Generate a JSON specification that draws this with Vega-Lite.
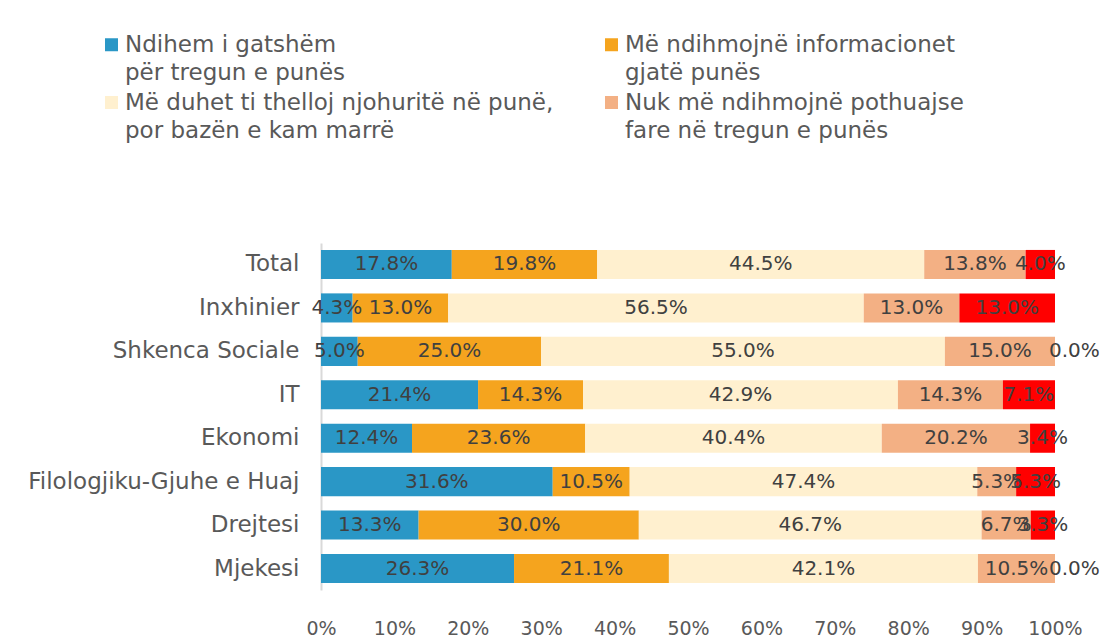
{
  "$schema": "https://vega.github.io/schema/vega-lite/v6.json",
  "autosize": "none",
  "width": 734,
  "height": 347,
  "padding": {"left": 321, "top": 243, "right": 48, "bottom": 54},
  "background": "white",
  "config": {
    "view": {"stroke": null},
    "font": "DejaVu Sans",
    "style": {"guide-label": {"lineHeight": 28}}
  },
  "data": {
    "values": [
      {"cat": "Total", "s": "A", "o": 1, "v": 17.8},
      {"cat": "Total", "s": "B", "o": 2, "v": 19.8},
      {"cat": "Total", "s": "C", "o": 3, "v": 44.5},
      {"cat": "Total", "s": "D", "o": 4, "v": 13.8},
      {"cat": "Total", "s": "E", "o": 5, "v": 4.0},
      {"cat": "Inxhinier", "s": "A", "o": 1, "v": 4.3},
      {"cat": "Inxhinier", "s": "B", "o": 2, "v": 13.0},
      {"cat": "Inxhinier", "s": "C", "o": 3, "v": 56.5},
      {"cat": "Inxhinier", "s": "D", "o": 4, "v": 13.0},
      {"cat": "Inxhinier", "s": "E", "o": 5, "v": 13.0},
      {"cat": "Shkenca Sociale", "s": "A", "o": 1, "v": 5.0},
      {"cat": "Shkenca Sociale", "s": "B", "o": 2, "v": 25.0},
      {"cat": "Shkenca Sociale", "s": "C", "o": 3, "v": 55.0},
      {"cat": "Shkenca Sociale", "s": "D", "o": 4, "v": 15.0},
      {"cat": "Shkenca Sociale", "s": "E", "o": 5, "v": 0.0},
      {"cat": "IT", "s": "A", "o": 1, "v": 21.4},
      {"cat": "IT", "s": "B", "o": 2, "v": 14.3},
      {"cat": "IT", "s": "C", "o": 3, "v": 42.9},
      {"cat": "IT", "s": "D", "o": 4, "v": 14.3},
      {"cat": "IT", "s": "E", "o": 5, "v": 7.1},
      {"cat": "Ekonomi", "s": "A", "o": 1, "v": 12.4},
      {"cat": "Ekonomi", "s": "B", "o": 2, "v": 23.6},
      {"cat": "Ekonomi", "s": "C", "o": 3, "v": 40.4},
      {"cat": "Ekonomi", "s": "D", "o": 4, "v": 20.2},
      {"cat": "Ekonomi", "s": "E", "o": 5, "v": 3.4},
      {"cat": "Filologjiku-Gjuhe e Huaj", "s": "A", "o": 1, "v": 31.6},
      {"cat": "Filologjiku-Gjuhe e Huaj", "s": "B", "o": 2, "v": 10.5},
      {"cat": "Filologjiku-Gjuhe e Huaj", "s": "C", "o": 3, "v": 47.4},
      {"cat": "Filologjiku-Gjuhe e Huaj", "s": "D", "o": 4, "v": 5.3},
      {"cat": "Filologjiku-Gjuhe e Huaj", "s": "E", "o": 5, "v": 5.3},
      {"cat": "Drejtesi", "s": "A", "o": 1, "v": 13.3},
      {"cat": "Drejtesi", "s": "B", "o": 2, "v": 30.0},
      {"cat": "Drejtesi", "s": "C", "o": 3, "v": 46.7},
      {"cat": "Drejtesi", "s": "D", "o": 4, "v": 6.7},
      {"cat": "Drejtesi", "s": "E", "o": 5, "v": 3.3},
      {"cat": "Mjekesi", "s": "A", "o": 1, "v": 26.3},
      {"cat": "Mjekesi", "s": "B", "o": 2, "v": 21.1},
      {"cat": "Mjekesi", "s": "C", "o": 3, "v": 42.1},
      {"cat": "Mjekesi", "s": "D", "o": 4, "v": 10.5},
      {"cat": "Mjekesi", "s": "E", "o": 5, "v": 0.0}
    ]
  },
  "transform": [
    {"stack": "v", "groupby": ["cat"], "sort": [{"field": "o", "order": "ascending"}], "offset": "normalize", "as": ["x0", "x1"]},
    {"calculate": "(datum.x0 + datum.x1) / 2", "as": "xm"},
    {"calculate": "format(datum.v, '.1f') + '%'", "as": "lbl"}
  ],
  "encoding": {
    "y": {
      "field": "cat",
      "type": "nominal",
      "sort": ["Total", "Inxhinier", "Shkenca Sociale", "IT", "Ekonomi", "Filologjiku-Gjuhe e Huaj", "Drejtesi", "Mjekesi"],
      "scale": {"paddingInner": 0.33, "paddingOuter": 0.16},
      "axis": {
        "title": null,
        "ticks": false,
        "domain": true,
        "domainColor": "#d9d9d9",
        "domainWidth": 2,
        "labelFontSize": 23,
        "labelColor": "#595959",
        "labelPadding": 22,
        "labelLimit": 400
      }
    }
  },
  "layer": [
    {
      "mark": {"type": "bar"},
      "encoding": {
        "x": {
          "field": "x0",
          "type": "quantitative",
          "scale": {"domain": [0, 1], "nice": false},
          "axis": {
            "title": null,
            "values": [0, 0.1, 0.2, 0.3, 0.4, 0.5, 0.6, 0.7, 0.8, 0.9, 1],
            "format": ".0%",
            "grid": false,
            "domain": false,
            "ticks": false,
            "labelFontSize": 19,
            "labelColor": "#595959",
            "labelPadding": 29,
            "labelFlush": false
          }
        },
        "x2": {"field": "x1"},
        "color": {
          "field": "s",
          "type": "nominal",
          "scale": {
            "domain": ["A", "B", "C", "D", "E"],
            "range": ["#2A97C6", "#F5A41E", "#FFF0CF", "#F3B084", "#FF0000"]
          },
          "legend": {
            "title": null,
            "values": ["A", "B", "C", "D"],
            "orient": "none",
            "legendX": -221,
            "legendY": -210,
            "columns": 2,
            "direction": "horizontal",
            "columnPadding": 46,
            "rowPadding": 6,
            "symbolType": "square",
            "symbolSize": 169,
            "symbolStrokeWidth": 0,
            "labelFontSize": 23,
            "labelColor": "#595959",
            "labelLimit": 600,
            "labelOffset": 2,
            "labelExpr": "datum.value == 'A' ? ['Ndihem i gatshëm', 'për tregun e punës'] : datum.value == 'B' ? ['Më ndihmojnë informacionet', '\u2002gjatë punës'] : datum.value == 'C' ? ['Më duhet ti thelloj njohuritë në punë,', '\u2002por bazën e kam marrë'] : ['Nuk më ndihmojnë pothuajse', '\u2002fare në tregun e punës']"
          }
        }
      }
    },
    {
      "transform": [{"filter": "datum.v > 0"}],
      "mark": {"type": "text", "fontSize": 20, "color": "#404040", "align": "center", "baseline": "middle"},
      "encoding": {
        "x": {"field": "xm", "type": "quantitative"},
        "text": {"field": "lbl", "type": "nominal"}
      }
    },
    {
      "transform": [{"filter": "datum.v == 0"}],
      "mark": {"type": "text", "fontSize": 20, "color": "#404040", "align": "left", "baseline": "middle", "dx": -6},
      "encoding": {
        "x": {"field": "xm", "type": "quantitative"},
        "text": {"field": "lbl", "type": "nominal"}
      }
    }
  ]
}
